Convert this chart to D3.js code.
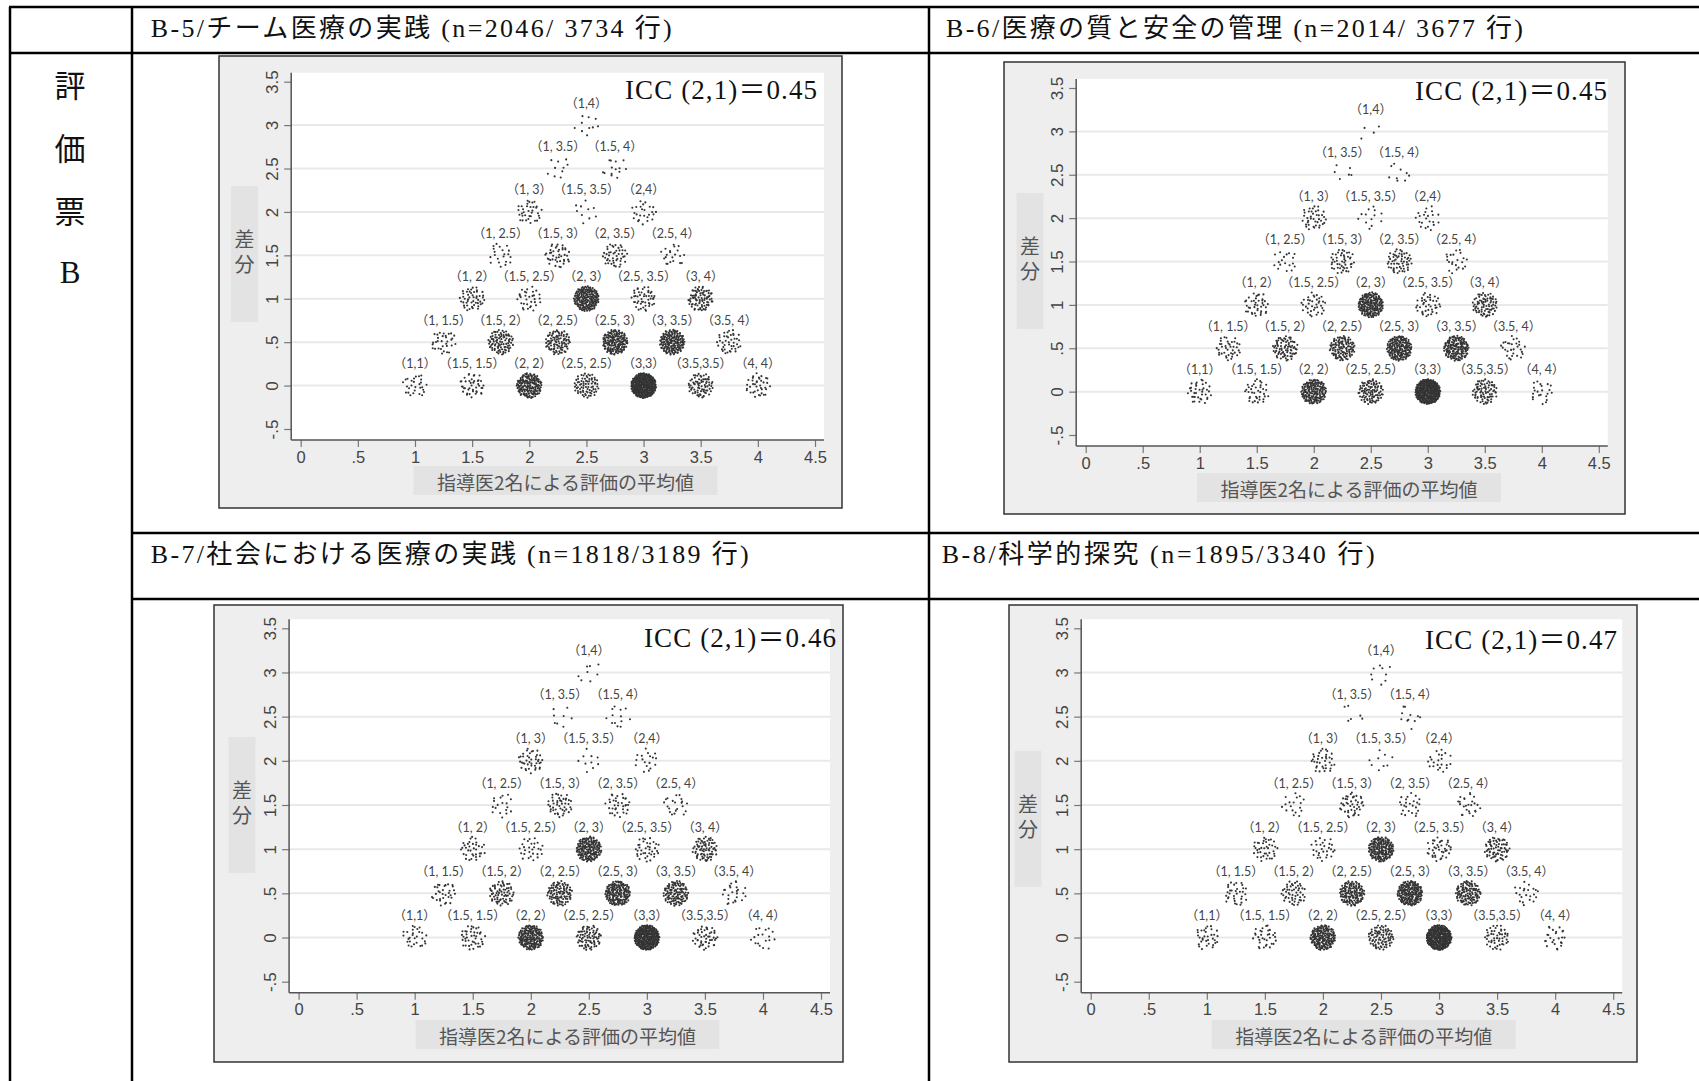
<!DOCTYPE html>
<html><head><meta charset="utf-8">
<script src="https://cdn.jsdelivr.net/npm/d3@7"></script>
<style>
html,body{margin:0;padding:0;background:#fff;}
svg{display:block;}
</style></head>
<body>
<svg id="c" width="1699" height="1081"></svg>
<script>
// ---------------- DATA ----------------
const panelTitles = [
  "B-5/チーム医療の実践 (n=2046/ 3734 行)",
  "B-6/医療の質と安全の管理 (n=2014/ 3677 行)",
  "B-7/社会における医療の実践 (n=1818/3189 行)",
  "B-8/科学的探究 (n=1895/3340 行)"
];
const iccValues = ["0.45", "0.45", "0.46", "0.47"];
const sideLabel = ["評", "価", "票", "B"];
const xTickValues = [0, 0.5, 1, 1.5, 2, 2.5, 3, 3.5, 4, 4.5];
const xTickLabels = ["0", ".5", "1", "1.5", "2", "2.5", "3", "3.5", "4", "4.5"];
const yTickValues = [-0.5, 0, 0.5, 1, 1.5, 2, 2.5, 3, 3.5];
const yTickLabels = ["-.5", "0", ".5", "1", "1.5", "2", "2.5", "3", "3.5"];
const gridValues = [0, 0.5, 1, 1.5, 2, 2.5, 3];
const xTitle = "指導医2名による評価の平均値";
const yTitle = "差分";

// rater pairs (lower score, higher score)
const raterLow  = [1,1.5,2,2.5,3,3.5,4, 1,1.5,2,2.5,3,3.5, 1,1.5,2,2.5,3, 1,1.5,2,2.5, 1,1.5,2, 1,1.5, 1];
const raterHigh = [1,1.5,2,2.5,3,3.5,4, 1.5,2,2.5,3,3.5,4, 2,2.5,3,3.5,4, 2.5,3,3.5,4, 3,3.5,4, 3.5,4, 4];
const pairLabels = [
  "（1,1）","（1.5, 1.5）","（2, 2）","（2.5, 2.5）","（3,3）","（3.5,3.5）","（4, 4）",
  "（1, 1.5）","（1.5, 2）","（2, 2.5）","（2.5, 3）","（3, 3.5）","（3.5, 4）",
  "（1, 2）","（1.5, 2.5）","（2, 3）","（2.5, 3.5）","（3, 4）",
  "（1, 2.5）","（1.5, 3）","（2, 3.5）","（2.5, 4）",
  "（1, 3）","（1.5, 3.5）","（2,4）",
  "（1, 3.5）","（1.5, 4）",
  "（1,4）"
];
// number of resident evaluations at each pair (estimated from dot density)
const countsB5 = [28,42,175,77,350,77,38, 32,91,98,175,175,42, 49,32,196,49,84, 21,42,46,21, 35,10,25, 10,14, 10];
const countsB6 = [37,37,168,102,330,80,22, 40,80,117,183,161,29, 40,37,190,40,80, 18,47,58,22, 40,13,22, 6,9, 4];
const countsB7 = [28,42,182,84,311,49,18, 32,70,105,175,119,25, 35,28,182,38,77, 18,45,35,21, 42,10,18, 8,13, 8];
const countsB8 = [33,33,188,87,326,51,25, 33,51,145,203,123,22, 40,29,188,40,73, 18,43,25,25, 36,9,22, 6,11, 9];
const panelCounts = [countsB5, countsB6, countsB7, countsB8];

// ---------------- LAYOUT ----------------
const layouts = [
  {box:[219,56,842,508],   xr:[300.7,815],    yr:[429,81.7],    icc:[817,99],   yt:[244.5,254], xt:[565.5,481],  head:[150.7,37,521]},
  {box:[1004,62,1625,514], xr:[1085.7,1598.8],yr:[435,88],      icc:[1607,100], yt:[1030,261],  xt:[1349,488],   head:[946,37,577]},
  {box:[214,605,843,1062], xr:[298.6,821],    yr:[981.7,628.3], icc:[836,647],  yt:[242,805],   xt:[567.5,1035], head:[150.7,563,598]},
  {box:[1009,605,1637,1062],xr:[1090.7,1613.2],yr:[981.7,628.3],icc:[1617,649], yt:[1028,819],  xt:[1363.7,1035],head:[941.7,563,433]}
];

const svg = d3.select("#c");
const CJK = "'Noto Sans CJK JP'";
const SERIF = "'Liberation Serif', " + CJK;
const SANS = "'Liberation Sans', Arial, " + CJK;

// ---------------- TABLE ----------------
const tbl = svg.append("g").attr("stroke", "#000").attr("stroke-width", 2.5);
[[10,7,10,1081],[132,7,132,1081],[929,7,929,1081],
 [9,7,1699,7],[9,53,1699,53],[132,533,1699,533],[132,599,1699,599]]
 .forEach(l => tbl.append("line").attr("x1",l[0]).attr("y1",l[1]).attr("x2",l[2]).attr("y2",l[3]));

svg.selectAll("text.side").data(sideLabel).join("text")
  .attr("class","side")
  .attr("x", 70).attr("y", (d,i) => [97,160,223,283][i])
  .attr("text-anchor","middle")
  .attr("font-family", SERIF).attr("font-size", 31).attr("fill","#111")
  .text(d => d);

// ---------------- PANELS ----------------
function halton(i, b){ let f = 1, r = 0; while(i > 0){ f /= b; r += f * (i % b); i = Math.floor(i / b);} return r; }

layouts.forEach((L, p) => {
  const g = svg.append("g");
  // header text
  g.append("text").attr("x", L.head[0]).attr("y", L.head[1])
    .attr("font-family", SERIF).attr("font-size", 26).attr("fill","#111")
    .attr("textLength", L.head[2]).attr("lengthAdjust","spacing")
    .text(panelTitles[p]);

  const x = d3.scaleLinear().domain([0, 4.5]).range(L.xr);
  const y = d3.scaleLinear().domain([-0.5, 3.5]).range(L.yr);
  const axX = L.xr[0] - 9.5, axY = L.yr[0] + 11, top = L.yr[1] - 9, right = L.xr[1] + 9;

  // panel box
  g.append("rect").attr("x", L.box[0]).attr("y", L.box[1])
    .attr("width", L.box[2]-L.box[0]).attr("height", L.box[3]-L.box[1])
    .attr("fill", "#eeeeee").attr("stroke", "#333").attr("stroke-width", 1.5);
  // plot area
  g.append("rect").attr("x", axX).attr("y", top).attr("width", right-axX).attr("height", axY-top).attr("fill","#fff");
  // gridlines
  g.selectAll("line.grid").data(gridValues).join("line").attr("class","grid")
    .attr("x1", axX).attr("x2", right).attr("y1", d => y(d)).attr("y2", d => y(d))
    .attr("stroke", "#e9e9e9").attr("stroke-width", 2);

  // axes
  const xa = g.append("g").attr("transform", `translate(0,${axY})`)
    .call(d3.axisBottom(x).tickValues(xTickValues).tickFormat((d,i) => xTickLabels[i]).tickSize(7).tickSizeOuter(0).tickPadding(4));
  xa.select(".domain").remove();
  xa.append("line").attr("x1", axX).attr("x2", right).attr("stroke","#555").attr("stroke-width",1.5);
  xa.selectAll(".tick line").attr("stroke","#777").attr("stroke-width",1.2);
  xa.selectAll(".tick text").attr("font-family", SANS).attr("font-size", 16.5).attr("fill", "#444");

  const ya = g.append("g").attr("transform", `translate(${axX},0)`)
    .call(d3.axisLeft(y).tickValues(yTickValues).tickFormat((d,i) => yTickLabels[i]).tickSize(7).tickSizeOuter(0));
  ya.select(".domain").remove();
  ya.append("line").attr("y1", top).attr("y2", axY).attr("stroke","#555").attr("stroke-width",1.5);
  ya.selectAll(".tick line").attr("stroke","#777").attr("stroke-width",1.2);
  ya.selectAll(".tick text")
    .attr("x", null).attr("dy", null)
    .attr("transform", "translate(-13,0) rotate(-90)")
    .attr("text-anchor","middle")
    .attr("font-family", SANS).attr("font-size", 17).attr("fill", "#444");

  // axis titles
  g.append("rect").attr("x", L.yt[0]-13.5).attr("y", L.yt[1]-68).attr("width", 27).attr("height", 136).attr("fill","#e3e3e3");
  g.append("text")
    .attr("x", L.yt[0]).attr("y", L.yt[1])
    .attr("writing-mode", "vertical-rl").style("writing-mode", "vertical-rl")
    .attr("text-anchor","middle")
    .attr("letter-spacing", 5)
    .attr("font-family", CJK).attr("font-size", 20).attr("fill","#555").text(yTitle);
  g.append("rect").attr("x", L.xt[0]-152).attr("y", L.xt[1]-15).attr("width", 304).attr("height", 29).attr("fill","#e3e3e3");
  g.append("text").attr("x", L.xt[0]).attr("y", L.xt[1]).attr("text-anchor","middle").attr("dominant-baseline","central")
    .attr("font-family", CJK).attr("font-size", 19).attr("fill","#555").text(xTitle);

  // ICC
  g.append("text").attr("x", L.icc[0]).attr("y", L.icc[1]).attr("text-anchor","end")
    .attr("font-family", SERIF).attr("font-size", 27).attr("fill","#111")
    .attr("textLength", 192).attr("lengthAdjust","spacing")
    .text("ICC (2,1)＝" + iccValues[p]);

  // jittered points
  const counts = panelCounts[p];
  const jx = 12.6 / (x(1) - x(0)), jy = 12.6 / (y(0) - y(1));
  const pts = [];
  counts.forEach((c, k) => {
    const mean = (raterLow[k] + raterHigh[k]) / 2, diff = raterHigh[k] - raterLow[k];
    const off = 17 + k * 211 + p * 53;
    for (let j = 0; j < c; j++) {
      const u = halton(off + j, 2), v = halton(off + j, 3);
      const r = Math.sqrt(u), t = 2 * Math.PI * v;
      pts.push({x: mean + r * Math.cos(t) * jx, y: diff + r * Math.sin(t) * jy});
    }
  });
  g.append("g").selectAll("circle").data(pts).join("circle")
    .attr("cx", d => x(d.x)).attr("cy", d => y(d.y)).attr("r", 1.05).attr("fill", "#333");

  // pair labels
  g.selectAll("text.pl").data(pairLabels).join("text").attr("class","pl")
    .attr("x", (d,k) => x((raterLow[k] + raterHigh[k]) / 2))
    .attr("y", (d,k) => y(raterHigh[k] - raterLow[k]) - 22)
    .attr("text-anchor","middle").attr("dominant-baseline","central")
    .attr("font-family", "Lato, " + CJK).attr("font-size", 12.5).attr("fill","#444")
    .text(d => d);
});
</script>
</body></html>
